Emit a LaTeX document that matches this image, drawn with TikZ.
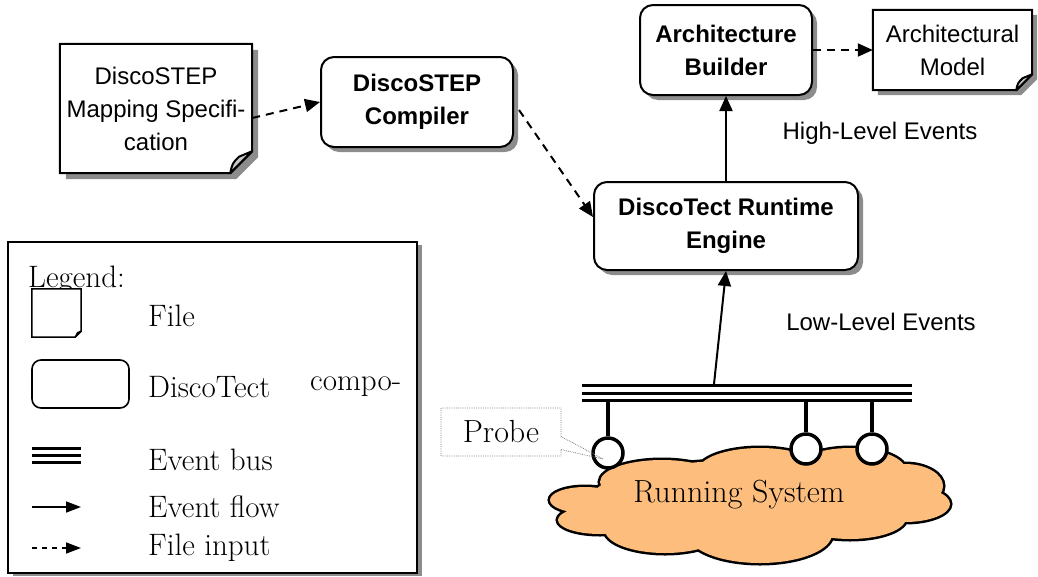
\documentclass[tikz,border=0pt]{standalone}
\usepackage{fontspec}
\newfontfamily\arial{Liberation Sans}
\usetikzlibrary{arrows.meta,shapes.callouts,shadows,backgrounds,calc}
\definecolor{cloudfill}{RGB}{253,190,125}
\definecolor{shadowgray}{RGB}{140,140,140}
\newcommand\docshape[4]{%
  \fill[shadowgray] ($(#1.north west)+(#3,#3)$) -- ($(#1.north east)+(#3,#3)$) -- ($(#1.south east)+(#3,#3-#2)$) -- ($(#1.south east)+(#3-#2,#3)$) -- ($(#1.south west)+(#3,#3)$) -- cycle;
  \filldraw[fill=white, line width=#4, line join=miter] (#1.north west) -- (#1.north east) -- ($(#1.south east)+(0,-#2)$) -- ($(#1.south east)+(-#2,0)$) -- (#1.south west) -- cycle;
  \filldraw[fill=black!22, line width=#4, line join=round] ($(#1.south east)+(-#2,0)$) .. controls ($(#1.south east)+(-0.9*#2,-0.45*#2)$) .. ($(#1.south east)+(-0.6*#2,-0.75*#2)$) -- ($(#1.south east)+(0,-#2)$) -- cycle;
}
\newcommand\cloudlobes{%
  (585,500) ellipse [x radius=35, y radius=13]
  (600,520) ellipse [x radius=42, y radius=14]
  (662,482) ellipse [x radius=62, y radius=22]
  (665,530) ellipse [x radius=60, y radius=23]
  (760,471) ellipse [x radius=62, y radius=23]
  (760,534) ellipse [x radius=72, y radius=29]
  (850,471) ellipse [x radius=56, y radius=23]
  (850,518) ellipse [x radius=56, y radius=21]
  (905,486) ellipse [x radius=38, y radius=22]
  (905,504) ellipse [x radius=45, y radius=18]
  (750,500) ellipse [x radius=160, y radius=40]
}
\tikzset{
  comp/.style={draw, line width=2pt, rounded corners=13pt, fill=white,
    drop shadow={shadow xshift=5pt, shadow yshift=-5pt, fill=shadowgray, opacity=1},
    align=center, inner sep=0, font=\arial\bfseries\fontsize{24}{33}\selectfont},
  filenode/.style={draw=none, inner sep=0, align=center, font=\arial\fontsize{24}{33}\selectfont},
  evtarrow/.style={line width=2pt, -{Triangle[length=15pt,width=13pt]}},
  filearrow/.style={line width=2pt, dash pattern=on 8pt off 6pt, -{Triangle[length=15pt,width=13pt]}},
  lbl/.style={font=\arial\fontsize{24}{28}\selectfont, inner sep=0},
  legtext/.style={font=\fontsize{31}{33}\selectfont, anchor=west, inner sep=0},
  probe/.style={circle, draw, line width=3.5pt, fill=white, minimum size=30pt, inner sep=0},
  busline/.style={line width=3pt},
}
\begin{document}
\begin{tikzpicture}[x=1pt,y=-1pt]
\useasboundingbox (0,0) rectangle (1038,576);

% files
\node[filenode, minimum width=192pt, minimum height=129pt] (spec) at (156,108.5) {DiscoSTEP\\Mapping Specifi-\\cation};
\node[filenode, minimum width=159pt, minimum height=80pt] (model) at (952.5,50) {Architectural\\Model};
\begin{pgfonlayer}{background}
  \docshape{spec}{22}{6}{2pt}
  \docshape{model}{16}{5}{2pt}
\end{pgfonlayer}

% components
\node[comp, minimum width=192pt, minimum height=90pt] (compiler) at (417,102) {DiscoSTEP\\Compiler};
\node[comp, minimum width=172pt, minimum height=90pt] (builder) at (726,50) {Architecture\\Builder};
\node[comp, minimum width=264pt, minimum height=88pt] (engine) at (726,226) {DiscoTect Runtime\\Engine};

\node[lbl] (hle) at (880,133) {High-Level Events};
\node[lbl] (lle) at (881,322) {Low-Level Events};

% running system (cloud drawn as union of lobes)
\draw[line width=5pt, fill=cloudfill] \cloudlobes;
\fill[cloudfill] \cloudlobes;
\node[font=\fontsize{32}{34}\selectfont, inner sep=0] (syslabel) at (739,495) {Running System};

% bus
\node[minimum width=330pt, minimum height=14pt, inner sep=0] (bus) at (747,393) {};
\draw[busline] (bus.north west) -- (bus.north east);
\draw[busline] (bus.west) -- (bus.east);
\draw[busline] (bus.south west) -- (bus.south east);

\node[probe] (p1) at (608,453) {};
\node[probe] (p2) at (806,449) {};
\node[probe] (p3) at (872,449) {};
\draw[line width=3.5pt] (bus.south -| p1) -- (p1.north);
\draw[line width=3.5pt] (bus.south -| p2) -- (p2.north);
\draw[line width=3.5pt] (bus.south -| p3) -- (p3.north);

\coordinate (ptip) at (603,459);
\node[rectangle callout, draw=gray, densely dotted, line width=0.8pt,
      callout absolute pointer=(ptip), callout pointer width=13pt,
      minimum width=120pt, minimum height=48pt, inner sep=0,
      font=\fontsize{32}{34}\selectfont] (probe) at (501,432) {Probe};

% connectors
\coordinate (busout) at ($(bus.north west)+(132,0)$);
\draw[filearrow] ($(spec.east)+(0,9.5)$) -- (compiler.west);
\draw[filearrow] ($(compiler.east)+(5,8)$) -- ($(engine.west)+(0,-9)$);
\draw[filearrow] (builder.east) -- (model.west);
\draw[evtarrow] (engine.north) -- (builder.south);
\draw[evtarrow] (busout) -- (engine.south);

% legend
\node[draw, line width=2pt, fill=white, inner sep=0,
      drop shadow={shadow xshift=5pt, shadow yshift=-3pt, fill=shadowgray, opacity=1},
      minimum width=409pt, minimum height=331pt] (legend) at (212.5,407.5) {};
\node[legtext] (leghead) at (28,280) {Legend:};
\node[inner sep=0, minimum width=49pt, minimum height=48pt] (legfile) at (56.5,313) {};
\docshape{legfile}{6}{0}{1.5pt}
\node[legtext] (legfiletxt) at (148,316) {File};
\node[draw, line width=1.6pt, rounded corners=9pt, minimum width=97pt, minimum height=48pt, inner sep=0] (legcomp) at (80.5,384) {};
\node[legtext] (legcomptxt) at (148,387) {DiscoTect};
\node[legtext] (legcomptxt2) at (310,387) {compo-};
\coordinate (lbA) at (32,455);
\coordinate (lbB) at (81,455);
\draw[line width=3pt] ($(lbA)+(0,-7)$) -- ($(lbB)+(0,-7)$);
\draw[line width=3pt] (lbA) -- (lbB);
\draw[line width=3pt] ($(lbA)+(0,7)$) -- ($(lbB)+(0,7)$);
\node[legtext] (legbustxt) at (148,460) {Event bus};
\coordinate (lfA) at (32,507);
\coordinate (lfB) at (81,507);
\draw[line width=1.6pt, -{Triangle[length=15pt,width=11pt]}] (lfA) -- (lfB);
\node[legtext] (legflowtxt) at (148,507) {Event flow};
\coordinate (liA) at (32,548);
\coordinate (liB) at (81,548);
\draw[line width=1.6pt, dash pattern=on 5pt off 5pt, -{Triangle[length=15pt,width=11pt]}] (liA) -- (liB);
\node[legtext] (leginputtxt) at (148,548) {File input};
\end{tikzpicture}
\end{document}
